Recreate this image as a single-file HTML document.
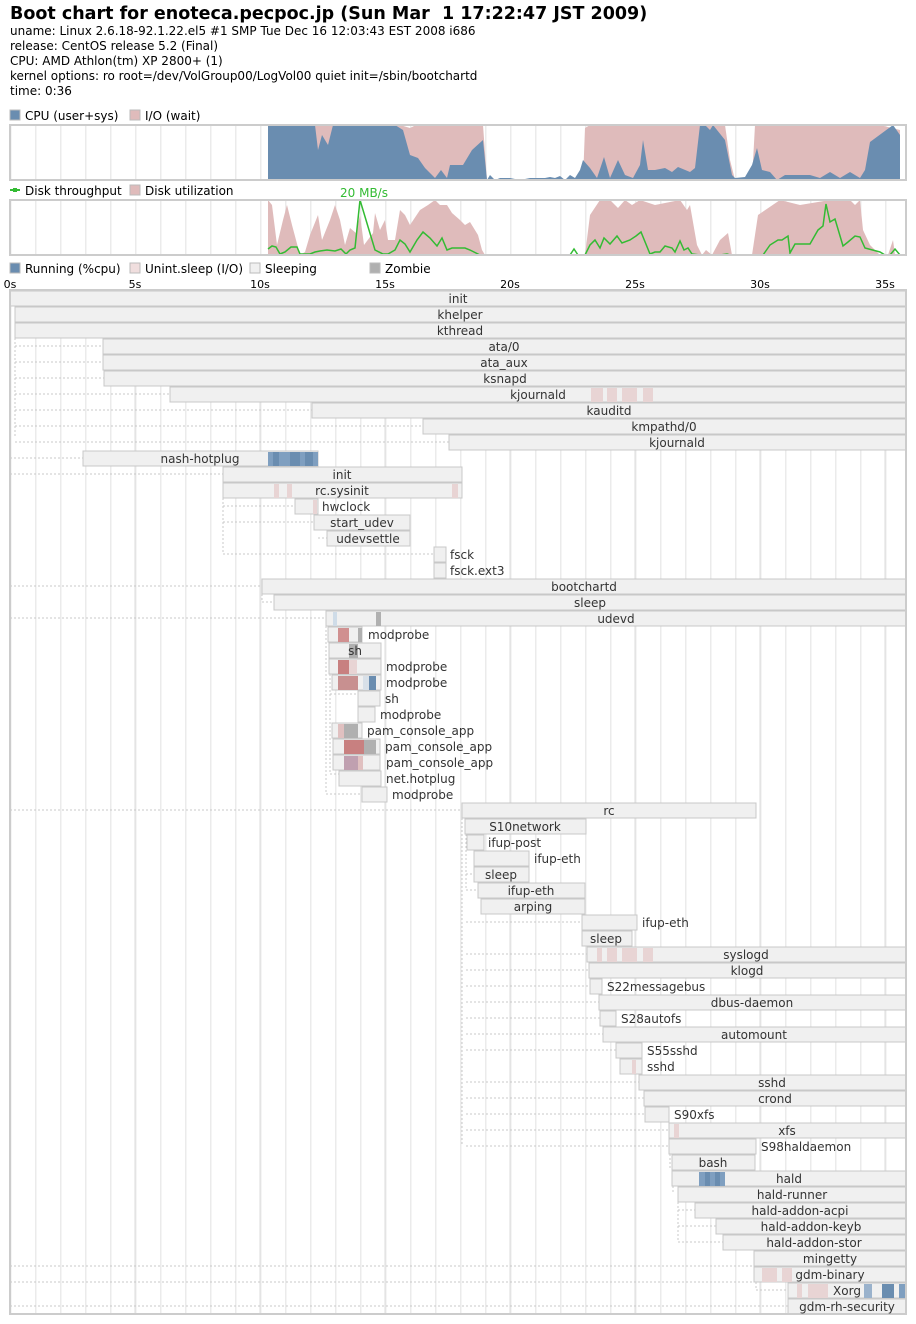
<!DOCTYPE html>
<html><head><meta charset="utf-8"><style>
body{margin:0;background:#fff}
svg{display:block;font-family:"DejaVu Sans","Liberation Sans",sans-serif}
.p{fill:#f0f0f0;stroke:#c8c8c8;stroke-width:1}
.t{font-size:12px;fill:#333}
.d{stroke:#c8c8c8;stroke-dasharray:2,2;fill:none}
</style></head><body>
<svg width="916" height="1324" viewBox="0 0 916 1324" xmlns="http://www.w3.org/2000/svg">
<defs>
<pattern id="g" x="10" y="0" width="25" height="10" patternUnits="userSpaceOnUse"><line x1="0.5" y1="0" x2="0.5" y2="10" stroke="#ebebeb" stroke-width="2"/></pattern>
</defs>
<text x="10" y="19" font-size="17.5" font-weight="bold" fill="#000">Boot chart for enoteca.pecpoc.jp (Sun Mar&#160; 1 17:22:47 JST 2009)</text>
<g font-size="12" fill="#000">
<text x="10" y="35">uname: Linux 2.6.18-92.1.22.el5 #1 SMP Tue Dec 16 12:03:43 EST 2008 i686</text>
<text x="10" y="50">release: CentOS release 5.2 (Final)</text>
<text x="10" y="65">CPU: AMD Athlon(tm) XP 2800+ (1)</text>
<text x="10" y="80">kernel options: ro root=/dev/VolGroup00/LogVol00 quiet init=/sbin/bootchartd</text>
<text x="10" y="95">time: 0:36</text>
</g>
<rect x="10" y="110" width="10" height="10" fill="#6a8db0" stroke="#bbb"/>
<text x="25" y="120" font-size="12">CPU (user+sys)</text>
<rect x="130" y="110" width="10" height="10" fill="#dfbbbb" stroke="#bbb"/>
<text x="145" y="120" font-size="12">I/O (wait)</text>
<rect x="10" y="125" width="896" height="55" fill="url(#g)"/>
<polygon fill="#dfbbbb" points="268,180 268,125 400,125 410,128 416,125 483,125 487,180 583,180 585,128 590,125 700,125 725,125 730,160 735,180 752,180 755,125 880,125 900,130 900,180"/>
<polygon fill="#6a8db0" points="268,180 268,125 315,125 318,150 322,135 328,145 333,125 395,125 403,130 410,155 418,158 425,168 435,178 441,170 447,178 450,165 463,165 472,150 483,140 487,180 490,175 495,180 500,178 510,178 520,180 530,178 545,178 550,177 555,178 560,176 565,180 570,175 575,178 580,170 583,160 590,168 597,178 604,157 610,178 618,160 625,175 633,178 640,165 643,140 648,170 655,170 665,168 672,172 678,167 690,172 695,168 700,125 705,125 710,130 713,125 725,140 732,175 735,178 745,177 752,165 757,148 762,170 770,172 777,180 785,175 810,175 820,178 830,172 840,178 850,172 860,178 865,170 870,142 893,125 900,135 900,180"/>
<rect x="10" y="125" width="896" height="55" fill="none" stroke="#ccc" stroke-width="2"/>
<line x1="10" y1="190" x2="20" y2="190" stroke="#3b3" stroke-width="2"/><rect x="13" y="188" width="4" height="4" fill="#3b3"/>
<text x="25" y="195" font-size="12">Disk throughput</text>
<rect x="130" y="185" width="10" height="10" fill="#dfbbbb" stroke="#bbb"/>
<text x="145" y="195" font-size="12">Disk utilization</text>
<text x="340" y="197" font-size="12" fill="#3b3">20 MB/s</text>
<rect x="10" y="200" width="896" height="55" fill="url(#g)"/>
<polygon fill="#dfbbbb" points="268,255 268,200 272,205 277,245 283,220 287,205 292,225 300,255 305,252 310,235 318,215 322,240 330,220 335,205 340,220 345,245 350,228 356,233 360,215 364,245 373,233 375,213 380,230 385,220 388,240 395,240 400,210 405,215 410,225 420,210 428,205 435,200 440,205 447,205 452,213 460,220 465,225 470,222 478,235 482,250 485,255 585,255 590,215 600,200 610,200 618,208 625,200 632,205 640,200 655,205 680,200 687,210 690,205 697,245 702,255 706,250 712,255 720,240 728,233 732,255 752,255 758,215 780,200 800,205 830,200 850,200 855,205 860,200 863,230 870,245 880,255 888,255 893,240 895,255"/>
<polyline fill="none" stroke="#3b3" stroke-width="1.5" points="268,249 272,246 276,247 280,254 285,252 291,247 297,247 300,254 310,254 315,252 320,251 327,250 335,251 341,249 346,254 350,250 355,248 360,200 375,250 383,254 388,254 395,250 400,240 405,244 410,252 417,240 423,232 430,238 437,246 442,238 447,250 452,248 465,248 470,250 480,255 570,255 574,249 578,255 585,255 590,245 595,240 600,248 604,238 610,244 617,236 622,243 630,240 636,236 641,232 650,254 655,252 660,252 665,246 672,248 675,252 680,241 684,250 688,248 692,254 700,255 720,255 727,254 730,255 763,255 770,245 778,240 782,240 788,236 790,253 795,244 810,244 818,230 823,226 826,204 830,222 835,219 843,246 848,242 855,236 860,237 865,248 880,252 885,255 890,255 895,249 900,255"/>
<rect x="10" y="200" width="896" height="55" fill="none" stroke="#ccc" stroke-width="2"/>
<rect x="10" y="263" width="10" height="10" fill="#6a8db0" stroke="#bbb"/><text x="25" y="273" font-size="12">Running (%cpu)</text>
<rect x="130" y="263" width="10" height="10" fill="#f0dede" stroke="#bbb"/><text x="145" y="273" font-size="12">Unint.sleep (I/O)</text>
<rect x="250" y="263" width="10" height="10" fill="#f0f0f0" stroke="#bbb"/><text x="265" y="273" font-size="12">Sleeping</text>
<rect x="370" y="263" width="10" height="10" fill="#b0b0b0" stroke="#bbb"/><text x="385" y="273" font-size="12">Zombie</text>
<g font-size="11" fill="#000" text-anchor="middle">
<text x="10" y="288">0s</text><text x="135" y="288">5s</text><text x="260" y="288">10s</text><text x="385" y="288">15s</text><text x="510" y="288">20s</text><text x="635" y="288">25s</text><text x="760" y="288">30s</text><text x="885" y="288">35s</text>
</g>
<rect x="10" y="290" width="896" height="1024" fill="url(#g)"/>
<g stroke="#ddd" stroke-width="1">
<line x1="135" y1="290" x2="135" y2="1314"/><line x1="260" y1="290" x2="260" y2="1314"/><line x1="385" y1="290" x2="385" y2="1314"/><line x1="510" y1="290" x2="510" y2="1314"/><line x1="635" y1="290" x2="635" y2="1314"/><line x1="760" y1="290" x2="760" y2="1314"/><line x1="885" y1="290" x2="885" y2="1314"/>
</g>
<g class="d">
<path d="M15,306 V437 M15,346 H103 M15,362 H103 M15,378 H104 M15,394 H170 M15,410 H312 M15,426 H423 M15,442 H449"/>
<path d="M10,458 H83 M10,474 H223 M10,586 H262 M10,810 H462 M10,1266 H754 M10,1282 H754 M10,1306 H788"/>
<path d="M223,474 V554 M223,506 H295 M223,522 H314 M223,554 H434 M318,538 H327 M434,570 V578"/>
<path d="M262,594 V602 H274 M10,618 H326 M326,618 V794 M330,634 V774 M330,694 H358 M330,774 H339 M326,794 H362"/>
<path d="M462,818 V1146 M466,826 V890 M466,842 H467 M466,874 H474 M466,890 H478 M466,922 H582 M466,954 H587 M466,970 H589 M466,986 H590 M466,1002 H599 M466,1018 H600 M466,1034 H603 M466,1050 H616 M466,1082 H639 M466,1098 H644 M466,1114 H645 M466,1130 H669 M466,1146 H669"/>
<path d="M670,1146 V1170 M673,1170 V1194 M678,1194 V1242 M678,1210 H695 M678,1226 H716 M678,1242 H723 M756,1282 V1290 H788"/>
</g>
<g>
<rect class="p" x="10" y="291" width="896" height="15"/>
<rect class="p" x="15" y="307" width="891" height="15"/>
<rect class="p" x="15" y="323" width="891" height="15"/>
<rect class="p" x="103" y="339" width="803" height="15"/>
<rect class="p" x="103" y="355" width="803" height="15"/>
<rect class="p" x="104" y="371" width="802" height="15"/>
<rect class="p" x="170" y="387" width="736" height="15"/>
<rect class="p" x="312" y="403" width="594" height="15"/>
<rect class="p" x="423" y="419" width="483" height="15"/>
<rect class="p" x="449" y="435" width="457" height="15"/>
<rect class="p" x="83" y="451" width="235" height="15"/>
<rect class="p" x="223" y="467" width="239" height="15"/>
<rect class="p" x="223" y="483" width="239" height="15"/>
<rect class="p" x="295" y="499" width="23" height="15"/>
<rect class="p" x="314" y="515" width="96" height="15"/>
<rect class="p" x="327" y="531" width="83" height="15"/>
<rect class="p" x="434" y="547" width="12" height="15"/>
<rect class="p" x="434" y="563" width="12" height="15"/>
<rect class="p" x="262" y="579" width="644" height="15"/>
<rect class="p" x="274" y="595" width="632" height="15"/>
<rect class="p" x="326" y="611" width="580" height="15"/>
<rect class="p" x="328" y="627" width="34" height="15"/>
<rect class="p" x="329" y="643" width="52" height="15"/>
<rect class="p" x="329" y="659" width="52" height="15"/>
<rect class="p" x="332" y="675" width="49" height="15"/>
<rect class="p" x="358" y="691" width="22" height="15"/>
<rect class="p" x="358" y="707" width="17" height="15"/>
<rect class="p" x="332" y="723" width="30" height="15"/>
<rect class="p" x="333" y="739" width="47" height="15"/>
<rect class="p" x="333" y="755" width="47" height="15"/>
<rect class="p" x="339" y="771" width="42" height="15"/>
<rect class="p" x="362" y="787" width="25" height="15"/>
<rect class="p" x="462" y="803" width="294" height="15"/>
<rect class="p" x="465" y="819" width="121" height="15"/>
<rect class="p" x="467" y="835" width="17" height="15"/>
<rect class="p" x="474" y="851" width="55" height="15"/>
<rect class="p" x="474" y="867" width="55" height="15"/>
<rect class="p" x="478" y="883" width="107" height="15"/>
<rect class="p" x="481" y="899" width="104" height="15"/>
<rect class="p" x="582" y="915" width="55" height="15"/>
<rect class="p" x="582" y="931" width="50" height="15"/>
<rect class="p" x="587" y="947" width="319" height="15"/>
<rect class="p" x="589" y="963" width="317" height="15"/>
<rect class="p" x="590" y="979" width="12" height="15"/>
<rect class="p" x="599" y="995" width="307" height="15"/>
<rect class="p" x="600" y="1011" width="16" height="15"/>
<rect class="p" x="603" y="1027" width="303" height="15"/>
<rect class="p" x="616" y="1043" width="26" height="15"/>
<rect class="p" x="620" y="1059" width="22" height="15"/>
<rect class="p" x="639" y="1075" width="267" height="15"/>
<rect class="p" x="644" y="1091" width="262" height="15"/>
<rect class="p" x="645" y="1107" width="24" height="15"/>
<rect class="p" x="669" y="1123" width="237" height="15"/>
<rect class="p" x="669" y="1139" width="87" height="15"/>
<rect class="p" x="672" y="1155" width="83" height="15"/>
<rect class="p" x="672" y="1171" width="234" height="15"/>
<rect class="p" x="678" y="1187" width="228" height="15"/>
<rect class="p" x="695" y="1203" width="211" height="15"/>
<rect class="p" x="716" y="1219" width="190" height="15"/>
<rect class="p" x="723" y="1235" width="183" height="15"/>
<rect class="p" x="754" y="1251" width="152" height="15"/>
<rect class="p" x="754" y="1267" width="152" height="15"/>
<rect class="p" x="788" y="1283" width="118" height="15"/>
<rect class="p" x="788" y="1299" width="118" height="15"/>
</g>
<g>
<rect x="591" y="388" width="12" height="14" fill="#e8d4d4"/><rect x="607" y="388" width="10" height="14" fill="#e8d4d4"/><rect x="622" y="388" width="15" height="14" fill="#e8d4d4"/><rect x="643" y="388" width="10" height="14" fill="#e8d4d4"/>
<rect x="268" y="452" width="50" height="14" fill="#7f9fc0"/><rect x="273" y="452" width="6" height="14" fill="#6a8db0"/><rect x="290" y="452" width="10" height="14" fill="#6a8db0"/><rect x="305" y="452" width="8" height="14" fill="#6a8db0"/>
<rect x="274" y="484" width="5" height="14" fill="#e8d4d4"/><rect x="287" y="484" width="5" height="14" fill="#e8d4d4"/><rect x="452" y="484" width="6" height="14" fill="#e8d4d4"/>
<rect x="313" y="500" width="4" height="14" fill="#e8d4d4"/>
<rect x="333" y="612" width="4" height="14" fill="#cfdce8"/><rect x="376" y="612" width="5" height="14" fill="#b0b0b0"/>
<rect x="338" y="628" width="11" height="14" fill="#d09090"/><rect x="358" y="628" width="4" height="14" fill="#b0b0b0"/>
<rect x="349" y="644" width="9" height="14" fill="#b0b0b0"/>
<rect x="338" y="660" width="11" height="14" fill="#c88080"/><rect x="349" y="660" width="8" height="14" fill="#e8d4d4"/>
<rect x="338" y="676" width="20" height="14" fill="#c89090"/><rect x="363" y="676" width="6" height="14" fill="#d8e0e8"/><rect x="369" y="676" width="7" height="14" fill="#6a8db0"/>
<rect x="338" y="724" width="6" height="14" fill="#e0c0c0"/><rect x="344" y="724" width="14" height="14" fill="#b0b0b0"/>
<rect x="344" y="740" width="20" height="14" fill="#c88080"/><rect x="364" y="740" width="12" height="14" fill="#b0b0b0"/>
<rect x="344" y="756" width="14" height="14" fill="#c0a0b0"/><rect x="358" y="756" width="5" height="14" fill="#e0c0c0"/>
<rect x="597" y="948" width="5" height="14" fill="#e8d4d4"/><rect x="607" y="948" width="10" height="14" fill="#e8d4d4"/><rect x="622" y="948" width="15" height="14" fill="#e8d4d4"/><rect x="643" y="948" width="10" height="14" fill="#e8d4d4"/>
<rect x="632" y="1060" width="4" height="14" fill="#e8d4d4"/>
<rect x="674" y="1124" width="5" height="14" fill="#e8d4d4"/>
<rect x="699" y="1172" width="26" height="14" fill="#7f9fc0"/><rect x="705" y="1172" width="5" height="14" fill="#6a8db0"/><rect x="715" y="1172" width="5" height="14" fill="#6a8db0"/>
<rect x="762" y="1268" width="15" height="14" fill="#e8d4d4"/><rect x="782" y="1268" width="10" height="14" fill="#e8d4d4"/>
<rect x="797" y="1284" width="5" height="14" fill="#e8d4d4"/><rect x="808" y="1284" width="20" height="14" fill="#e8d4d4"/><rect x="864" y="1284" width="8" height="14" fill="#9ab2cc"/><rect x="882" y="1284" width="12" height="14" fill="#6a8db0"/><rect x="899" y="1284" width="6" height="14" fill="#7f9fc0"/>
</g>
<rect x="10" y="290" width="896" height="1024" fill="none" stroke="#ccc" stroke-width="2"/>
<g class="t" text-anchor="middle">
<text x="458" y="303">init</text><text x="460" y="319">khelper</text><text x="460" y="335">kthread</text>
<text x="504" y="351">ata/0</text><text x="504" y="367">ata_aux</text><text x="505" y="383">ksnapd</text>
<text x="538" y="399">kjournald</text><text x="609" y="415">kauditd</text><text x="664" y="431">kmpathd/0</text><text x="677" y="447">kjournald</text>
<text x="200" y="463">nash-hotplug</text><text x="342" y="479">init</text><text x="342" y="495">rc.sysinit</text>
<text x="362" y="527">start_udev</text><text x="368" y="543">udevsettle</text>
<text x="584" y="591">bootchartd</text><text x="590" y="607">sleep</text><text x="616" y="623">udevd</text>
<text x="355" y="655">sh</text>
<text x="609" y="815">rc</text><text x="525" y="831">S10network</text><text x="501" y="879">sleep</text>
<text x="531" y="895">ifup-eth</text><text x="533" y="911">arping</text><text x="606" y="943">sleep</text>
<text x="746" y="959">syslogd</text><text x="747" y="975">klogd</text><text x="752" y="1007">dbus-daemon</text><text x="754" y="1039">automount</text>
<text x="772" y="1087">sshd</text><text x="775" y="1103">crond</text><text x="787" y="1135">xfs</text>
<text x="713" y="1167">bash</text><text x="789" y="1183">hald</text><text x="792" y="1199">hald-runner</text>
<text x="800" y="1215">hald-addon-acpi</text><text x="811" y="1231">hald-addon-keyb</text><text x="814" y="1247">hald-addon-stor</text>
<text x="830" y="1263">mingetty</text><text x="830" y="1279">gdm-binary</text><text x="847" y="1295">Xorg</text><text x="847" y="1311">gdm-rh-security</text>
</g>
<g class="t">
<text x="322" y="511">hwclock</text><text x="450" y="559">fsck</text><text x="450" y="575">fsck.ext3</text>
<text x="368" y="639">modprobe</text><text x="386" y="671">modprobe</text><text x="386" y="687">modprobe</text>
<text x="385" y="703">sh</text><text x="380" y="719">modprobe</text>
<text x="367" y="735">pam_console_app</text><text x="385" y="751">pam_console_app</text><text x="386" y="767">pam_console_app</text>
<text x="386" y="783">net.hotplug</text><text x="392" y="799">modprobe</text>
<text x="488" y="847">ifup-post</text><text x="534" y="863">ifup-eth</text><text x="642" y="927">ifup-eth</text>
<text x="607" y="991">S22messagebus</text><text x="621" y="1023">S28autofs</text><text x="647" y="1055">S55sshd</text><text x="647" y="1071">sshd</text>
<text x="674" y="1119">S90xfs</text><text x="761" y="1151">S98haldaemon</text>
</g>
</svg>
</body></html>
